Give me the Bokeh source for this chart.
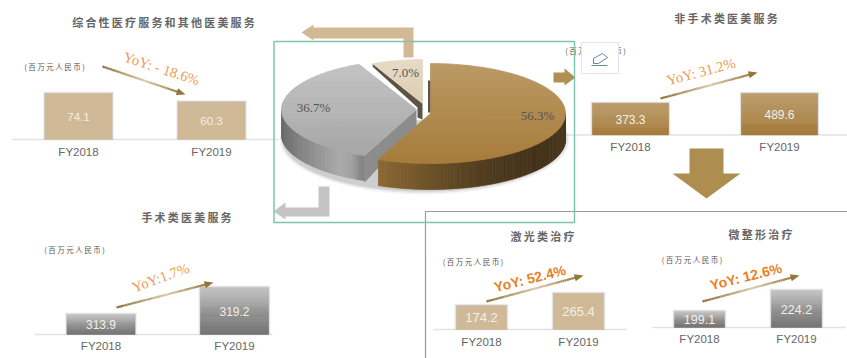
from bokeh.plotting import figure
from bokeh.models import Range1d
from bokeh.core.properties import value
from bokeh.embed import file_html
from bokeh.resources import INLINE
import numpy as np

# ---- data ----
fiscal_years = ["FY2018", "FY2019"]
unit_label = "(百万元人民币)"

pie_shares = [56.3, 36.7, 7.0]

general_values = [74.1, 60.3]
non_surgical_values = [373.3, 489.6]
surgical_values = [313.9, 319.2]
laser_values = [174.2, 265.4]
micro_values = [199.1, 224.2]

general_title = "综合性医疗服务和其他医美服务"
non_surgical_title = "非手术类医美服务"
surgical_title = "手术类医美服务"
laser_title = "激光类治疗"
micro_title = "微整形治疗"

general_yoy = "YoY: - 18.6%"
non_surgical_yoy = "YoY: 31.2%"
surgical_yoy = "YoY:1.7%"
laser_yoy = "YoY: 52.4%"
micro_yoy = "YoY: 12.6%"

# ---- palette ----
TAN = ("#cfb997", "#cfb997")
BROWN = ("#ba9862", "#a67c3c")
GRAY = ("#c2c2c2", "#6c6c6c")
ORANGE_SOFT = "#ee9a50"
ORANGE_BOLD = "#e8821f"
CJK = "Noto Sans CJK SC"
W, H = 847, 358

p = figure(width=W, height=H, x_range=Range1d(0, W), y_range=Range1d(H, 0),
           toolbar_location=None, output_backend="svg", min_border=0,
           outline_line_color=None, background_fill_color="white")
p.axis.visible = False
p.grid.visible = False


def rgb(c):
    return np.array([int(c[i:i + 2], 16) for i in (1, 3, 5)], dtype=float)


def mix(stops, t):
    """Colour at position t along explicitly placed stops."""
    pos = [s[0] for s in stops]
    cols = np.array([rgb(s[1]) for s in stops])
    v = [np.interp(t, pos, cols[:, i]) for i in range(3)]
    return "#%02x%02x%02x" % tuple(int(round(x)) for x in v)


def clip(poly, y_lim, keep_below):
    out = []
    n = len(poly)
    for i in range(n):
        a, b = poly[i], poly[(i + 1) % n]
        ina = a[1] >= y_lim if keep_below else a[1] <= y_lim
        inb = b[1] >= y_lim if keep_below else b[1] <= y_lim
        if ina:
            out.append(a)
        if ina != inb:
            t = (y_lim - a[1]) / (b[1] - a[1])
            out.append((a[0] + t * (b[0] - a[0]), y_lim))
    return out


def v_gradient_poly(poly, stops, step=2.0):
    """Fill a polygon with a vertical gradient made of thin bands."""
    ys = [q[1] for q in poly]
    y0, y1 = min(ys), max(ys)
    xs_all, ys_all, cols = [], [], []
    y = y0
    while y < y1:
        band = clip(clip(poly, y, True), y + step, False)
        if len(band) >= 3:
            xs_all.append([q[0] for q in band])
            ys_all.append([q[1] for q in band])
            cols.append(mix(stops, (y - y0) / (y1 - y0)))
        y += step
    p.patches(xs_all, ys_all, fill_color=cols, line_color=cols, line_width=0.7)


def ell(cx, cy, a, b, frac):
    th = 2 * np.pi * np.asarray(frac)
    return cx + a * np.sin(th), cy - b * np.cos(th)


def wedge(cx, cy, a, b, f0, f1):
    fr = np.linspace(f0, f1, 90)
    x, y = ell(cx, cy, a, b, fr)
    return [(cx, cy)] + list(zip(x, y))


def wall(cx, cy, a, b, f0, f1, depth, stops):
    """Outer rim of a slice, shaded by horizontal position."""
    fr = np.linspace(f0, f1, 80)
    x, y = ell(cx, cy, a, b, fr)
    xs_all, ys_all, cols = [], [], []
    for i in range(len(fr) - 1):
        xs_all.append([x[i], x[i + 1], x[i + 1], x[i]])
        ys_all.append([y[i], y[i + 1], y[i + 1] + depth, y[i] + depth])
        cols.append(mix(stops, (x[i] + x[i + 1]) / 2))
    p.patches(xs_all, ys_all, fill_color=cols, line_color=cols, line_width=0.7)


def poly(points, color, alpha=1.0):
    p.patch([q[0] for q in points], [q[1] for q in points],
            fill_color=color, line_color=None, fill_alpha=alpha)


def label(x, y, txt, size, color, font="Liberation Sans", angle=0.0, style="normal", align="center"):
    p.text([x], [y], text=[txt], text_font=value(font), text_font_size=f"{size}px",
           text_color=color, text_align=align, text_baseline="middle",
           angle=np.radians(angle), text_font_style=style)


def spaced(s):
    return "\u2009".join(s)


def trend_arrow(x0, y0, x1, y1):
    """Arrow whose shaft fades in the middle, as a run of short segments."""
    n = 40
    ts = np.linspace(0, 0.92, n + 1)
    stops = [(0, "#8c7038"), (0.55, "#d8c8a8"), (1, "#97763a")]
    for i in range(n):
        a, b = ts[i], ts[i + 1]
        p.line([x0 + a * (x1 - x0), x0 + b * (x1 - x0)], [y0 + a * (y1 - y0), y0 + b * (y1 - y0)],
               line_color=mix(stops, a / 0.92), line_width=2.2)
    dx, dy = x1 - x0, y1 - y0
    ln = np.hypot(dx, dy)
    ux, uy = dx / ln, dy / ln
    bx, by = x1 - 9 * ux, y1 - 9 * uy
    poly([(x1, y1), (bx - 3.6 * uy, by + 3.6 * ux), (bx + 3.6 * uy, by - 3.6 * ux)], "#97763a")


def panel(name, vals, centers, half, baseline, ref, colors, lab_size, fy_y):
    """Two bars on a panel scale; ref = (value, pixel row) pairs fixing that scale."""
    (v0, px0), (v1, px1) = ref
    k = (px0 - px1) / (v1 - v0)
    val_at = lambda px: v0 + (px0 - px) / k
    p.extra_y_ranges[name] = Range1d(val_at(H), val_at(0))
    floor = val_at(baseline)
    for c, v in zip(centers, vals):
        for pad, a in ((2.0, 0.10), (1.0, 0.24)):
            p.quad(left=[c - half - pad], right=[c + half + pad], top=[v + pad / k], bottom=[floor],
                   fill_color="#777777", fill_alpha=a, line_color=None, y_range_name=name)
        n = max(int((v - floor) * k), 1) if colors[0] != colors[1] else 1
        edges = np.linspace(v, floor, n + 1)
        cols = [mix([(0, colors[0]), (1, colors[1])], i / max(n - 1, 1)) for i in range(n)]
        p.quad(left=[c - half] * n, right=[c + half] * n, top=edges[:-1], bottom=edges[1:],
               fill_color=cols, line_color=cols, line_width=0.4, y_range_name=name)
        mid = (v + floor) / 2
        p.text([c], [mid], text=[f"{v:.1f}"], text_font=value("Liberation Sans"),
               text_font_size=f"{lab_size}px", text_color="#f4efe6", text_align="center",
               text_baseline="middle", y_range_name=name)
    for c, fy in zip(centers, fiscal_years):
        label(c, fy_y, fy, 11.5, "#666666")


# ---- frames behind everything ----
p.line([425, 425, W], [H, 211, 211], line_color="#9b9b9b", line_width=1.2)

# ---- baselines ----
for x0, x1, y in ((12, 278, 139), (556, W, 134.5), (34, 272, 334), (433, 626, 329), (652, 845, 327)):
    p.line([x0, x1], [y, y], line_color="#e2e2e2", line_width=1.3)

# ---- bar panels ----
panel("general", general_values, (78, 211), 33.5, 139,
      ((0, 139), (general_values[0], 93)), TAN, 11.6, 151)
panel("non_surgical", non_surgical_values, (630, 779), 38, 134.5,
      ((0, 134.5), (non_surgical_values[1], 93)), BROWN, 12, 146)
panel("surgical", surgical_values, (100.5, 234), 34, 334,
      ((surgical_values[0], 314), (surgical_values[1], 287)), GRAY, 12, 345)
panel("laser", laser_values, (481, 578), 25, 329,
      ((0, 329), (laser_values[1], 293)), TAN, 13, 341)
panel("micro", micro_values, (699, 796), 25, 327,
      ((micro_values[0], 311), (micro_values[1], 290)), GRAY, 12.5, 338)

# ---- panel titles and unit notes ----
for x, y, t in ((163, 21, general_title), (725.5, 17, non_surgical_title), (186, 216, surgical_title),
                (542, 235, laser_title), (760, 233, micro_title)):
    label(x, y, spaced(t), 11, "#666666", font=CJK, style="bold")
for x, y in ((54, 65.5), (595, 49.5), (74, 248.5), (472.5, 260.5), (691.5, 258.5)):
    label(x, y, spaced(unit_label), 7.5, "#555555", font=CJK)

# ---- year-on-year arrows and notes ----
trend_arrow(102, 66, 185, 94)
trend_arrow(660, 98, 757, 72)
trend_arrow(116, 307, 213, 282)
trend_arrow(486, 301, 583, 275)
trend_arrow(702, 301, 799, 275)
label(161, 68, general_yoy, 14.5, ORANGE_SOFT, font="Liberation Serif", angle=-18)
label(700.5, 71, non_surgical_yoy, 14.5, ORANGE_SOFT, font="Liberation Serif", angle=15)
label(160, 277, surgical_yoy, 14.5, ORANGE_SOFT, font="Liberation Serif", angle=20)
label(529.5, 278, laser_yoy, 14, ORANGE_BOLD, style="bold", angle=14)
label(745.5, 276, micro_yoy, 14, ORANGE_BOLD, style="bold", angle=14)

# ---- three-dimensional pie ----
total = sum(pie_shares)
f1 = pie_shares[0] / total
f2 = f1 + pie_shares[1] / total

# soft ground shadow under the rim
for grow, a in ((4, 0.06), (2.5, 0.10), (1, 0.16)):
    t = np.linspace(0.16, 0.78, 120)
    xo, yo = ell(424, 139, 141 + grow, 51 + grow, t)
    poly(list(zip(xo, yo)), "#555555", a)

BC = (430, 113, 135, 50)
GC = (416, 109, 135, 50)
TC = (422, 103, 117, 44)
DEPTH = 27

# grey slice: cut face, rim, top
gx, gy = ell(GC[0], GC[1], GC[2], GC[3], f1)
poly([(GC[0], GC[1]), (gx, gy), (gx, gy + DEPTH), (GC[0], GC[1] + DEPTH - 10)], "#8c8c8c")
wall(*GC, f1, 0.75, DEPTH - 2,
     [(281, "#6e6e6e"), (310, "#8e8e8e"), (340, "#aaaaaa"), (352, "#a0a0a0"), (360, "#858585")])
v_gradient_poly(wedge(*GC, f1, f2), [(0, "#c2c2c2"), (1, "#a6a6a6")])

# beige slice with its dark cut edge
bx, by = ell(TC[0], TC[1], TC[2], TC[3], f2)
poly([(bx, by), (TC[0], TC[1]), (TC[0], TC[1] + 16), (TC[0] - 5, TC[1] + 14), (TC[0] - 5, TC[1] + 4), (bx, by + 3)],
     "#5c5546")
v_gradient_poly(wedge(*TC, f2, 1.0), [(0, "#e6dac5"), (1, "#dccdb1")])

# thin sliver of the brown slice's inner face
poly([(427.5, 80), (430.5, 80), (430.5, 112), (427.5, 112)], "#565656")

# brown slice: rim then top
wall(*BC, 0.25, f1, DEPTH - 1,
     [(375, "#8e6a34"), (430, "#6c5028"), (490, "#4e3a1e"), (540, "#43311a"), (565, "#4a371e")])
v_gradient_poly(wedge(*BC, 0.0, f1), [(0, "#ba9862"), (1, "#a57b3a")])

label(405, 72, f"{pie_shares[2]:.1f}%", 13, "#555555", font="Liberation Serif")
label(313, 107, f"{pie_shares[1]:.1f}%", 13, "#555555", font="Liberation Serif")
label(537, 115, f"{pie_shares[0]:.1f}%", 13, "#555555", font="Liberation Serif")

# ---- routing arrows around the pie ----
poly([(403, 57), (403, 38), (313, 38), (313, 40), (301, 32), (313, 24), (313, 27), (413, 27), (413, 57)], "#d2b994")
poly([(318, 186), (318, 207), (285, 207), (285, 202), (273, 211), (285, 219), (285, 216), (329, 216), (329, 186)],
     "#c4c4c4")
poly([(553, 72), (564, 72), (564, 68), (575, 77), (564, 85), (564, 82), (553, 82)], "#b08f52")
poly([(689, 148), (723, 148), (723, 173), (740, 173), (706, 198), (672, 173), (689, 173)], "#ae8d50")

# ---- teal frame around the pie ----
p.line([273.5, 574, 574, 273.5, 273.5], [41, 41, 222, 222, 41], line_color="#7fc4ae", line_width=1.5)

# ---- floating edit button ----
p.quad(left=[581], right=[618], top=[42], bottom=[73], fill_color="white", line_color="#e2e6ea", line_width=1)
p.line([591, 607], [65, 65], line_color="#6a8a90", line_width=1)
p.line([593, 593, 602, 607, 598, 593], [63, 58, 53, 57, 63, 63], line_color="#6a8a90", line_width=1)

open("out.html", "w").write(file_html(p, INLINE))
